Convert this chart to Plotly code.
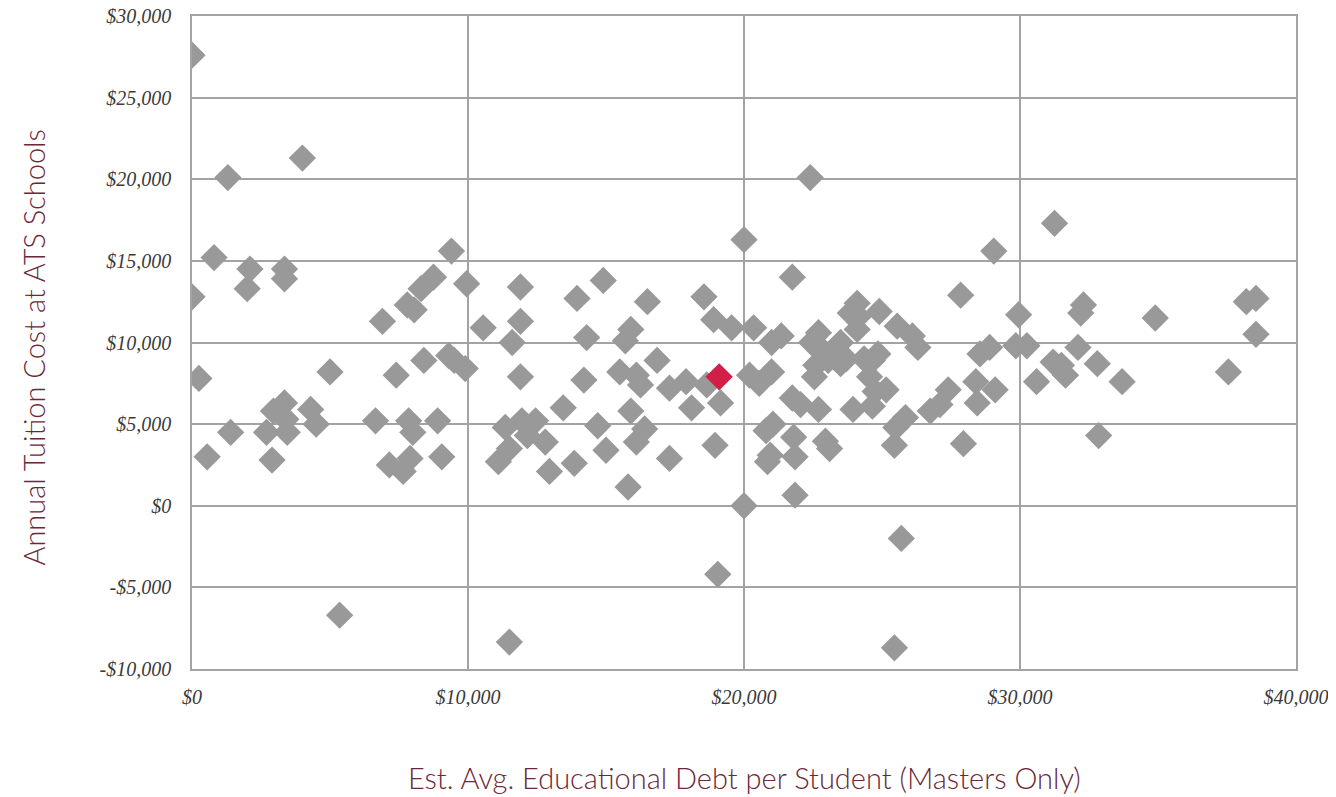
import plotly.graph_objects as go

# est. average educational debt per student (masters only), USD
debt = [
    0, 0, 250, 550, 800, 1300, 1400, 2000, 2100, 2700, 2900, 2950, 3350, 3350, 3350,
    3400, 3450, 4000, 4300, 4500, 5000, 5350,
    6650, 6900, 7150, 7400, 7650, 7800, 7850, 7900, 8000, 8050, 8300, 8400, 8750, 8900,
    9050, 9300, 9400, 9500, 9900, 9950,
    10550, 11100, 11350, 11500, 11500, 11600, 11900, 11900, 11900, 11950, 12150, 12450,
    12800, 12950, 13450, 13850, 13950, 14200, 14300, 14700, 14900, 15000,
    15500, 15700, 15800, 15900, 15900, 16100, 16100, 16250, 16400, 16500, 16850, 17300,
    17300, 17900, 18100, 18550, 18650, 18900, 18950, 19150, 19050, 19550, 20000, 20000,
    20200, 20350, 20550, 20800, 20850, 20950, 21000, 21000, 21050, 21350, 21750, 21750,
    21800, 21850, 21850, 22050, 22400, 22450, 22550, 22600, 22700, 22700, 22800, 22950,
    23050, 23100, 23300, 23500, 23500, 23700, 23850, 23950, 24100, 24100, 24150, 24350,
    24550, 24650, 24650, 24750, 24850, 24900, 25150,
    25450, 25500, 25550, 25450, 25700, 25850, 26100, 26300, 26750, 27100, 27400, 27850,
    27950, 28400, 28450, 28550, 28900, 29050, 29100, 29850,
    29950, 30250, 30600, 31250, 31200, 31500, 31650, 32100, 32200, 32300, 32800, 32850,
    33700, 34900, 37550, 38200, 38550, 38550,
]

# annual tuition cost at ATS schools, USD
tuition = [
    27600, 12800, 7800, 3000, 15200, 20100, 4500, 13300, 14500, 4500, 2800, 5800, 6300, 14500, 13900,
    5300, 4500, 21300, 5900, 5000, 8200, -6700,
    5200, 11300, 2500, 8000, 2100, 12300, 5200, 2900, 4500, 12000, 13300, 8900, 14000, 5200,
    3000, 9200, 15600, 8900, 8400, 13600,
    10900, 2700, 4800, 3500, -8350, 10000, 11300, 13400, 7900, 5200, 4300, 5200,
    3900, 2100, 6000, 2600, 12700, 7700, 10300, 4900, 13800, 3400,
    8200, 10100, 1150, 5800, 10800, 3900, 8000, 7400, 4700, 12500, 8900, 2900,
    7200, 7600, 6000, 12800, 7400, 11400, 3700, 6300, -4200, 10900, 16300, 0,
    8000, 10900, 7500, 4600, 2700, 3100, 10000, 8200, 5000, 10400, 14000, 6600,
    4200, 3000, 650, 6200, 20100, 10000, 7900, 8600, 5900, 10600, 9600, 3950,
    8900, 3500, 9300, 10000, 8700, 9000, 11800, 5900, 12400, 10800, 11600, 9000,
    7900, 6100, 8900, 7000, 9300, 11900, 7100,
    3700, 4800, 11000, -8700, -2000, 5400, 10400, 9700, 5800, 6200, 7100, 12900,
    3800, 7600, 6300, 9300, 9700, 15600, 7100, 9800,
    11700, 9800, 7600, 17300, 8800, 8600, 8000, 9700, 11800, 12300, 8700, 4300,
    7600, 11500, 8200, 12500, 12700, 10500,
]

# the highlighted school
hl_debt = [19100]
hl_tuition = [7900]

x_ticks = [0, 10000, 20000, 30000, 40000]
y_ticks = [-10000, -5000, 0, 5000, 10000, 15000, 20000, 25000, 30000]


def money(v):
    return ("-$" if v < 0 else "$") + f"{abs(v):,}"


grid = "#a3a3a3"
title_col = "#6b2838"
tick_font = dict(family="Liberation Serif", size=20, color="#3a3a3a", style="italic")
title_font = dict(family="Lato", size=29, color=title_col, weight=300)

fig = go.Figure()
fig.add_trace(go.Scatter(
    x=debt, y=tuition, mode="markers",
    marker=dict(symbol="diamond", size=21, color="#999999", line=dict(width=0)),
    hoverinfo="x+y",
))
fig.add_trace(go.Scatter(
    x=hl_debt, y=hl_tuition, mode="markers",
    marker=dict(symbol="diamond", size=21, color="#d21f47", line=dict(width=0)),
    hoverinfo="x+y",
))

# page body adds an 8px offset, margins account for it
fig.update_layout(
    width=1336, height=797,
    margin=dict(l=184, r=48, t=8, b=136),
    paper_bgcolor="white", plot_bgcolor="white",
    showlegend=False,
)
fig.update_xaxes(
    range=[0, 40000], tickvals=x_ticks, ticktext=[money(v) for v in x_ticks],
    tickfont=tick_font, ticklabelstandoff=9, automargin=False,
    ticklabeloverflow="allow",
    showgrid=True, gridcolor=grid, gridwidth=1.5,
    showline=True, linecolor=grid, linewidth=1.5, mirror=True,
    zeroline=False,
)
fig.update_yaxes(
    range=[-10000, 30000], tickvals=y_ticks, ticktext=[money(v) for v in y_ticks],
    tickfont=tick_font, ticklabelstandoff=15, automargin=False,
    ticklabeloverflow="allow",
    showgrid=True, gridcolor=grid, gridwidth=1.5,
    showline=True, linecolor=grid, linewidth=1.5, mirror=True,
    zeroline=False,
)

# axis titles
fig.add_annotation(text="Est. Avg. Educational Debt per Student (Masters Only)",
                   xref="paper", yref="paper", x=0.5, y=0, yshift=-108,
                   xanchor="center", yanchor="middle", showarrow=False, font=title_font)
fig.add_annotation(text="Annual Tuition Cost at ATS Schools",
                   xref="paper", yref="paper", x=0, y=0.5, xshift=-159, yshift=-5,
                   xanchor="center", yanchor="middle", textangle=-90,
                   showarrow=False, font=title_font)

fig.write_html("out.html")
